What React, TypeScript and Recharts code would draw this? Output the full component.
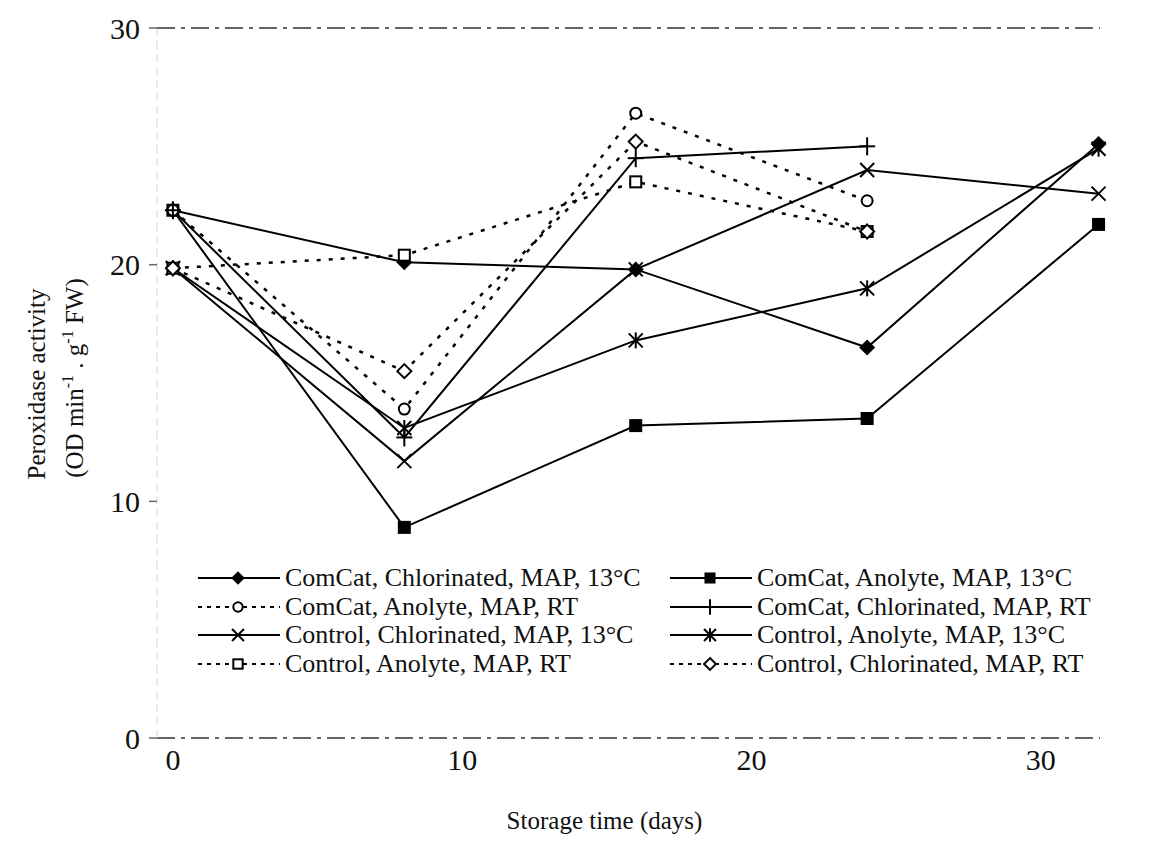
import React from 'react';
import { Label, Line, LineChart, ReferenceLine, XAxis, YAxis } from 'recharts';

const FONT = '"Liberation Serif", "Times New Roman", serif';

const DAYS = [0, 8, 16, 24, 32];
const X_TICKS = [0, 10, 20, 30];
const Y_TICKS = [0, 10, 20, 30];

// peroxidase activity per sampling day (RT series stop at day 24)
const comcatChlor13 = [22.3, 20.1, 19.8, 16.5, 25.1];
const comcatAnolyte13 = [22.3, 8.9, 13.2, 13.5, 21.7];
const comcatAnolyteRT = [22.3, 13.9, 26.4, 22.7];
const comcatChlorRT = [22.3, 12.7, 24.5, 25.0];
const controlChlor13 = [19.85, 11.7, 19.8, 24.0, 23.0];
const controlAnolyte13 = [19.85, 13.1, 16.8, 19.0, 24.9];
const controlAnolyteRT = [19.85, 20.4, 23.5, 21.4];
const controlChlorRT = [19.85, 15.5, 25.2, 21.4];

type Marker = 'diamond' | 'square' | 'circle' | 'plus' | 'cross' | 'star' | 'openSquare' | 'openDiamond';

type Series = {
  key: string;
  name: string;
  values: number[];
  marker: Marker;
  dotted: boolean;
};

const SERIES: Series[] = [
  { key: 'cc13', name: 'ComCat, Chlorinated, MAP, 13°C', values: comcatChlor13, marker: 'diamond', dotted: false },
  { key: 'ca13', name: 'ComCat, Anolyte, MAP, 13°C', values: comcatAnolyte13, marker: 'square', dotted: false },
  { key: 'caRT', name: 'ComCat, Anolyte, MAP, RT', values: comcatAnolyteRT, marker: 'circle', dotted: true },
  { key: 'ccRT', name: 'ComCat, Chlorinated, MAP, RT', values: comcatChlorRT, marker: 'plus', dotted: false },
  { key: 'kc13', name: 'Control, Chlorinated, MAP, 13°C', values: controlChlor13, marker: 'cross', dotted: false },
  { key: 'ka13', name: 'Control, Anolyte, MAP, 13°C', values: controlAnolyte13, marker: 'star', dotted: false },
  { key: 'kaRT', name: 'Control, Anolyte, MAP, RT', values: controlAnolyteRT, marker: 'openSquare', dotted: true },
  { key: 'kcRT', name: 'Control, Chlorinated, MAP, RT', values: controlChlorRT, marker: 'openDiamond', dotted: true },
];

const rows = DAYS.map((day, i) => {
  const row: Record<string, number | null> = { day };
  SERIES.forEach((s) => {
    row[s.key] = s.values[i] ?? null;
  });
  return row;
});

const drawMarker = (kind: Marker, cx: number, cy: number, s = 1) => {
  const w = 2;
  switch (kind) {
    case 'diamond':
      return <polygon points={`${cx},${cy - 8 * s} ${cx + 8 * s},${cy} ${cx},${cy + 8 * s} ${cx - 8 * s},${cy}`} fill="#000" />;
    case 'square':
      return <rect x={cx - 6.5 * s} y={cy - 6.5 * s} width={13 * s} height={13 * s} fill="#000" />;
    case 'circle':
      return <circle cx={cx} cy={cy} r={5.5 * s} fill="#fff" stroke="#000" strokeWidth={w} />;
    case 'plus':
      return (
        <g stroke="#000" strokeWidth={w}>
          <line x1={cx - 8 * s} y1={cy} x2={cx + 8 * s} y2={cy} />
          <line x1={cx} y1={cy - 9 * s} x2={cx} y2={cy + 9 * s} />
        </g>
      );
    case 'cross':
      return (
        <g stroke="#000" strokeWidth={w}>
          <line x1={cx - 7 * s} y1={cy - 7 * s} x2={cx + 7 * s} y2={cy + 7 * s} />
          <line x1={cx - 7 * s} y1={cy + 7 * s} x2={cx + 7 * s} y2={cy - 7 * s} />
        </g>
      );
    case 'star':
      return (
        <g stroke="#000" strokeWidth={w}>
          <line x1={cx - 7 * s} y1={cy - 7 * s} x2={cx + 7 * s} y2={cy + 7 * s} />
          <line x1={cx - 7 * s} y1={cy + 7 * s} x2={cx + 7 * s} y2={cy - 7 * s} />
          <line x1={cx} y1={cy - 8 * s} x2={cx} y2={cy + 8 * s} />
        </g>
      );
    case 'openSquare':
      return <rect x={cx - 5.5 * s} y={cy - 5.5 * s} width={11 * s} height={11 * s} fill="#fff" stroke="#000" strokeWidth={w} />;
    case 'openDiamond':
      return (
        <polygon
          points={`${cx},${cy - 7 * s} ${cx + 7 * s},${cy} ${cx},${cy + 7 * s} ${cx - 7 * s},${cy}`}
          fill="#fff"
          stroke="#000"
          strokeWidth={w}
        />
      );
    default:
      return null;
  }
};

const makeDot = (kind: Marker) => (props: any) => {
  const { cx, cy, index } = props;
  const key = `${kind}-${index}`;
  if (typeof cx !== 'number' || typeof cy !== 'number' || !Number.isFinite(cy) || props.value == null) {
    return <g key={key} />;
  }
  return <g key={key}>{drawMarker(kind, cx, cy)}</g>;
};

const LEGEND_LEFT = ['cc13', 'caRT', 'kc13', 'kaRT'];
const LEGEND_RIGHT = ['ca13', 'ccRT', 'ka13', 'kcRT'];

const LegendColumn = ({ keys, left }: { keys: string[]; left: number }) => (
  <div style={{ position: 'absolute', left, top: 564 }}>
    {keys.map((k) => {
      const s = SERIES.find((item) => item.key === k)!;
      return (
        <div key={k} style={{ display: 'flex', alignItems: 'center', height: 28.5 }}>
          <svg width={82} height={28} style={{ display: 'block' }}>
            <line
              x1={0}
              y1={14}
              x2={82}
              y2={14}
              stroke="#000"
              strokeWidth={s.dotted ? 1.8 : 2}
              strokeDasharray={s.dotted ? '4 5' : undefined}
            />
            {drawMarker(s.marker, 40, 14, 0.85)}
          </svg>
          <span style={{ marginLeft: 5, fontFamily: FONT, fontSize: 26, color: '#111', whiteSpace: 'nowrap', lineHeight: '28px' }}>
            {s.name}
          </span>
        </div>
      );
    })}
  </div>
);

const YTitle = () => (
  <g fontFamily={FONT} fontSize={25} fill="#111">
    <text transform="rotate(-90)" x={-384} y={45} textAnchor="middle">
      Peroxidase activity
    </text>
    <text transform="rotate(-90)" x={-378} y={83} textAnchor="middle">
      (OD min
      <tspan dy={-10} fontSize={16}>
        -1
      </tspan>
      <tspan dy={10}> . g</tspan>
      <tspan dy={-10} fontSize={16}>
        -1
      </tspan>
      <tspan dy={10}> FW)</tspan>
    </text>
  </g>
);

export default function App() {
  return (
    <div style={{ position: 'absolute', left: 0, top: 0, width: 1150, height: 845, background: '#fff' }}>
      <LineChart width={1150} height={845} data={rows} margin={{ top: 28, right: 50, bottom: 7, left: 97 }}>
        <XAxis
          dataKey="day"
          type="number"
          domain={[-0.55, 32.05]}
          ticks={X_TICKS}
          axisLine={false}
          tickLine={false}
          tickSize={0}
          tickMargin={11}
          height={100}
          tick={{ fontSize: 30, fontFamily: FONT, fill: '#111' }}
        >
          <Label
            value="Storage time (days)"
            position="insideBottom"
            offset={9}
            dx={-24}
            style={{ fontSize: 25, fontFamily: FONT, fill: '#111' }}
          />
        </XAxis>
        <YAxis
          type="number"
          domain={[0, 30]}
          ticks={Y_TICKS}
          width={60}
          axisLine={{ stroke: '#d6d6d6', strokeDasharray: '8 5' }}
          tickLine={{ stroke: '#666', strokeWidth: 1.5 }}
          tickSize={8}
          tickMargin={9}
          tick={{ fontSize: 30, fontFamily: FONT, fill: '#111' }}
        >
          <Label content={() => <YTitle />} />
        </YAxis>
        <ReferenceLine y={30} stroke="#333" strokeWidth={1.5} strokeDasharray="18 6 4 6" />
        <ReferenceLine y={0} stroke="#333" strokeWidth={1.5} strokeDasharray="18 6 4 6" />
        {SERIES.map((s) => (
          <Line
            key={s.key}
            dataKey={s.key}
            name={s.name}
            type="linear"
            stroke="#000"
            strokeWidth={s.dotted ? 2.5 : 2}
            strokeDasharray={s.dotted ? '4 8' : undefined}
            dot={makeDot(s.marker)}
            activeDot={false}
            isAnimationActive={false}
          />
        ))}
      </LineChart>
      <LegendColumn keys={LEGEND_LEFT} left={198} />
      <LegendColumn keys={LEGEND_RIGHT} left={670} />
    </div>
  );
}
